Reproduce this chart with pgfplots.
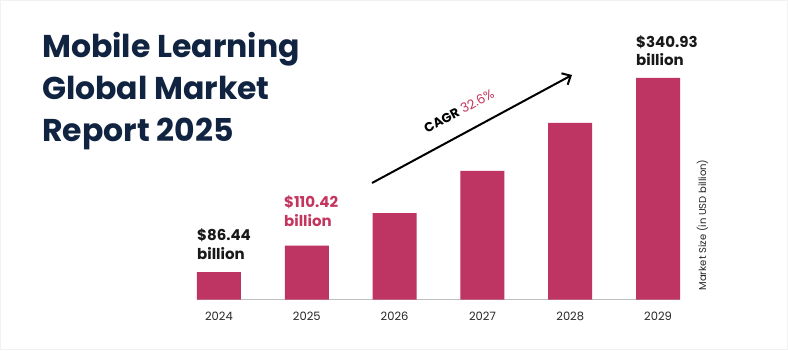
\documentclass[border=0pt]{standalone}
\usepackage{fontspec}
\setmainfont{Poppins}
\usepackage{pgfplots}
\pgfplotsset{compat=1.18}
\usetikzlibrary{arrows.meta}
\definecolor{barpink}{RGB}{190,52,99}
\definecolor{labpink}{RGB}{196,54,95}
\definecolor{navy}{RGB}{16,35,64}
\begin{document}
\begin{tikzpicture}[x=1bp,y=1bp]
\useasboundingbox (0,0) rectangle (788,350);
\draw[fill=white, draw=black!5, line width=1.5bp] (0.75,0.75) rectangle (787.25,349.25);
\begin{axis}[
  at={(197bp,50.5bp)}, anchor=south west,
  scale only axis, width=483bp, height=221.5bp,
  xmin=-0.25, xmax=5.25, ymin=0, ymax=340.93,
  axis x line*=bottom, axis y line=none,
  x axis line style={draw=black!25, line width=1bp, -},
  xtick={0,1,2,3,4,5},
  xticklabels={2024,2025,2026,2027,2028,2029},
  major tick length=0pt,
  xticklabel style={font=\fontsize{11.5bp}{13bp}\selectfont, text=black!85, anchor=base, yshift=-20.5bp},
  ybar, bar width=44bp,
  clip=false,
]
\addplot[fill=barpink, draw=none] coordinates {(0,42.3) (1,83.1) (2,133.1) (3,197.8) (4,271.7) (5,340.93)};
\end{axis}
% title
\begin{scope}[every node/.style={anchor=base west, inner sep=0pt, text=navy, font=\fontsize{31.5bp}{36bp}\selectfont\bfseries}]
\node at (42,293) {Mobile Learning};
\node at (42,251) {Global Market};
\node at (42,209) {Report 2025};
\end{scope}
% value labels
\begin{scope}[every node/.style={anchor=base west, inner sep=0pt, font=\fontsize{15bp}{18bp}\selectfont\bfseries}]
\node[text=black!90] at (197,110) {\$86.44};
\node[text=black!90] at (197,91) {billion};
\node[text=labpink] at (284,143) {\$110.42};
\node[text=labpink] at (284,124) {billion};
\node[text=black!90] at (636,303) {\$340.93};
\node[text=black!90] at (636,285) {billion};
\end{scope}
% CAGR arrow
\draw[line width=2bp, -{Straight Barb[length=7bp, width=13bp, line width=2bp]}] (372,167) -- (572,275);
\node[rotate=28.4, inner sep=0pt, font=\fontsize{13bp}{15bp}\selectfont] at (459,239) {\textbf{CAGR}\ \textcolor{labpink}{32.6\%}};
% right label
\node[rotate=90, inner sep=0pt, font=\fontsize{10bp}{12bp}\selectfont, text=black!85] at (702.5,125) {Market Size (in USD billion)};
\end{tikzpicture}
\end{document}
